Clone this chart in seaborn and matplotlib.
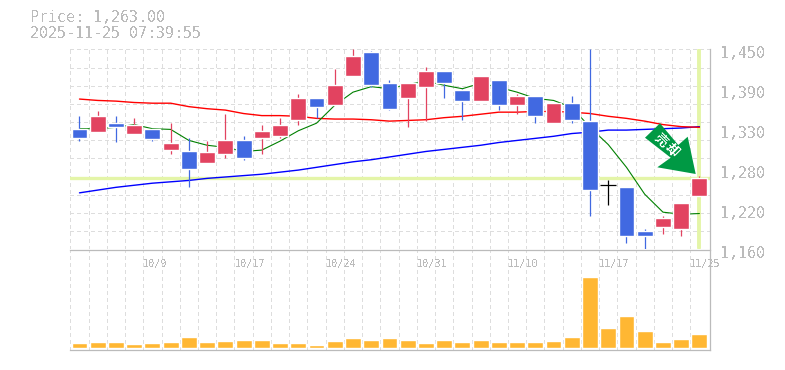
"""Daily candlestick chart with moving averages and volume panel."""

import numpy as np
import matplotlib
matplotlib.use("Agg")
import matplotlib.pyplot as plt
from matplotlib.patches import Polygon
from matplotlib.transforms import IdentityTransform
import seaborn as sns

W, H = 785, 370
GREY = "#bbbbbb"
GRID = "#dddddd"
UP = "#e24360"
DOWN = "#4169e1"
PALE = "#e4f5a8"
MONO = "DejaVu Sans Mono"

opens = [1334, 1330, 1344, 1327, 1334, 1304, 1302, 1286, 1299, 1318, 1322, 1324,
         1347, 1380, 1370, 1411, 1446, 1401, 1379, 1395, 1418, 1391, 1375, 1405,
         1369, 1383, 1344, 1372, 1346, 1254, 1251, 1186, 1192, 1190, 1237]
highs = [1354, 1360, 1354, 1350, 1334, 1343, 1322, 1317, 1356, 1325, 1340, 1351,
         1386, 1380, 1421, 1450, 1447, 1406, 1402, 1425, 1418, 1393, 1412, 1405,
         1385, 1383, 1372, 1383, 1450, 1260, 1251, 1189, 1208, 1228, 1267]
lows = [1317, 1330, 1316, 1327, 1317, 1299, 1250, 1286, 1293, 1289, 1298, 1322,
        1340, 1350, 1370, 1411, 1395, 1362, 1338, 1346, 1379, 1347, 1375, 1362,
        1356, 1344, 1344, 1343, 1209, 1225, 1169, 1160, 1182, 1179, 1237]
closes = [1321, 1354, 1337, 1340, 1320, 1315, 1276, 1301, 1318, 1292, 1331, 1341,
          1380, 1366, 1399, 1440, 1399, 1363, 1402, 1418, 1402, 1375, 1411, 1369,
          1383, 1353, 1372, 1348, 1246, 1254, 1179, 1180, 1206, 1228, 1263]

ma_short = [1335, 1335, 1337, 1341, 1335, 1334, 1318, 1311, 1308, 1302, 1304, 1317,
            1332, 1343, 1369, 1388, 1396, 1393, 1399, 1404, 1398, 1393, 1401, 1395,
            1388, 1379, 1376, 1366, 1337, 1312, 1279, 1240, 1214, 1211, 1212]
ma_mid = [1378, 1376, 1375, 1373, 1372, 1372, 1367, 1364, 1362, 1357, 1354, 1354,
          1353, 1350, 1349, 1349, 1348, 1346, 1347, 1348, 1351, 1353, 1356, 1359,
          1359, 1360, 1360, 1359, 1357, 1353, 1350, 1346, 1341, 1338, 1337]
ma_long = [1242, 1246, 1250, 1253, 1256, 1258, 1260, 1263, 1265, 1267, 1269, 1272,
           1275, 1279, 1283, 1287, 1290, 1294, 1298, 1302, 1305, 1308, 1311, 1315,
           1318, 1321, 1324, 1328, 1330, 1333, 1333, 1334, 1335, 1336, 1338]

volume = [5, 6, 6, 4, 5, 6, 11, 6, 7, 8, 8, 5, 5, 3, 7, 10, 8, 10, 8, 5, 8, 6, 8, 6,
          6, 6, 7, 11, 71, 20, 32, 17, 6, 9, 14]

date_pos = [4, 9, 14, 19, 24, 29, 34]
date_labels = ["10/9", "10/17", "10/24", "10/31", "11/10", "11/17", "11/25"]
price_ticks = [1450, 1392, 1334, 1276, 1218, 1160]
price_labels = ["1,450", "1,390", "1,330", "1,280", "1,220", "1,160"]
last_price = 1263
title_lines = ["Price: 1,263.00", "2025-11-25 07:39:55"]
arrow_text = "売却"

days = np.arange(len(closes))


def panel(top, bottom):
    return [70 / W, 1 - bottom / H, 640 / W, (bottom - top) / H]


def dress(ax):
    ax.set_xlim(-0.52, 34.58)
    ax.set_xticks(days - 0.5)
    ax.set_xticklabels([])
    ax.tick_params(length=0, labelleft=False, labelbottom=False)
    ax.set_xlabel("")
    ax.set_ylabel("")
    ax.set_axisbelow(True)
    ax.grid(axis="x", color=GRID, lw=0.8, ls=(0, (3, 3)), antialiased=False)
    for spine in ax.spines.values():
        spine.set_visible(False)


def px_poly(points):
    return [(x, H - y) for x, y in points]


sns.set_style("white")
plt.rcParams["text.antialiased"] = False
fig = plt.figure(figsize=(W / 100, H / 100), dpi=100)
ax = fig.add_axes(panel(49.4, 249.4))
ax_vol = fig.add_axes(panel(250, 350))

# moving averages sit under the candles
for series, color, width in [(ma_long, "#0000ff", 1.0), (ma_mid, "#ff0000", 1.0), (ma_short, "#008000", 0.8)]:
    sns.lineplot(x=days, y=series, color=color, linewidth=width, errorbar=None,
                 ax=ax, zorder=3)

ax.axhline(last_price, color=PALE, lw=2.4, zorder=2)
ax.axvline(days[-1], color=PALE, lw=2.8, ymin=0.005, ymax=0.995, zorder=2)

for i in days:
    o, h, l, c = opens[i], highs[i], lows[i], closes[i]
    color = "black" if c == o else (UP if c > o else DOWN)
    ax.vlines(i, l, h, color=color, lw=0.9, zorder=4)
    if c == o:
        ax.hlines(c, i - 0.44, i + 0.44, color=color, lw=0.9, zorder=4)
    else:
        ax.bar(i, abs(c - o), bottom=min(o, c), width=0.87, color=color, zorder=5)

ax.set_ylim(1160, 1450)
ax.set_yticks(np.linspace(1160, 1450, 12))
ax.grid(axis="y", color=GRID, lw=0.8, ls=(0, (3, 3)), antialiased=False)
dress(ax)
ax.spines["right"].set_visible(True)
ax.spines["right"].set_color(GREY)
ax.spines["right"].set_linewidth(0.9)

for value, label in zip(price_ticks, price_labels):
    ax.annotate(label, xy=(1, value), xycoords=ax.get_yaxis_transform(),
                xytext=(10, -4.5), textcoords="offset pixels", ha="left", va="center",
                family=MONO, fontsize=10.8, color=GREY, annotation_clip=False)

sns.barplot(x=days, y=volume, native_scale=True, color="#ffb733", saturation=1,
            width=0.87, ax=ax_vol, zorder=3)
ax_vol.set_ylim(-2, 98)
dress(ax_vol)
for side in ["top", "bottom", "right"]:
    ax_vol.spines[side].set_visible(True)
    ax_vol.spines[side].set_color(GREY)
    ax_vol.spines[side].set_linewidth(0.9)

for pos, label in zip(date_pos, date_labels):
    ax_vol.text(pos - 0.5, 0.86, label, transform=ax_vol.get_xaxis_transform(),
                ha="left", va="center", family=MONO, fontsize=7.4, color=GREY,
                clip_on=False, zorder=6)

for line, y in zip(title_lines, [18, 33]):
    fig.text(30 / W, 1 - y / H, line, ha="left", va="center", family=MONO,
             fontsize=10.8, color=GREY)

# sell-signal arrow
arrow = Polygon(
    px_poly([(660, 123.3), (645, 137.7), (670.7, 157.7), (657.3, 167.3),
             (695.7, 174), (687.7, 136.7), (678.3, 145)]),
    closed=True, facecolor="#009944", edgecolor="none",
    transform=IdentityTransform(), zorder=10,
)
fig.add_artist(arrow)
for ch, (x, y) in zip(arrow_text, [(660.7, 140), (672.3, 150)]):
    fig.text(x / W, 1 - y / H, ch, ha="center", va="center", color="white",
             family=["Noto Sans CJK JP", "DejaVu Sans"], fontsize=9.5, fontweight="bold",
             rotation=-45, zorder=11)

fig.savefig("out.png", dpi=100)
